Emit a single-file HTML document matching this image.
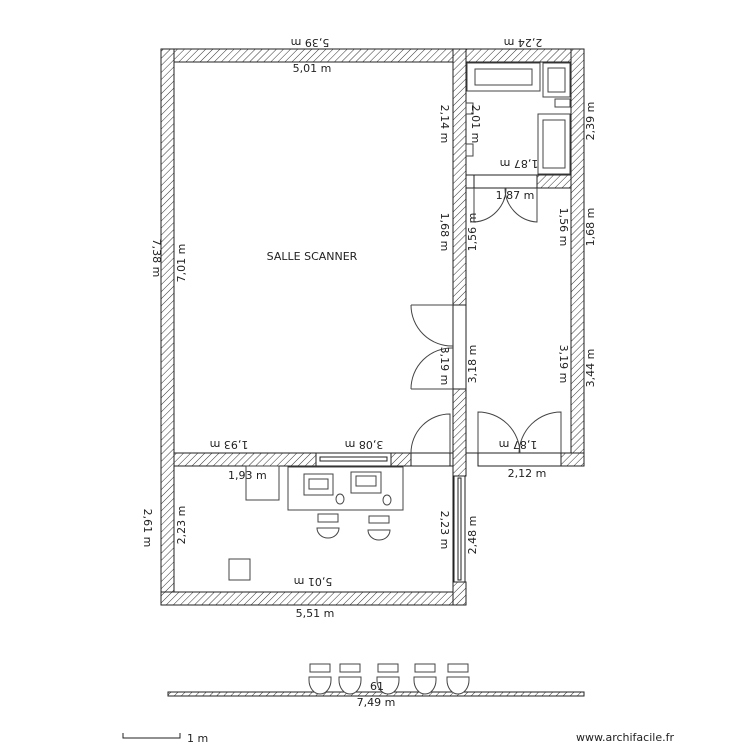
<!DOCTYPE html>
<html><head><meta charset="utf-8"><style>
html,body{margin:0;padding:0;background:#fff;}
svg{display:block;}
text{font-family:"DejaVu Sans","Liberation Sans",sans-serif;font-size:11px;fill:#222;}
</style></head><body>
<svg width="750" height="750" viewBox="0 0 750 750" xmlns="http://www.w3.org/2000/svg">
<defs>
<pattern id="h" patternUnits="userSpaceOnUse" width="5" height="5" patternTransform="rotate(45)">
<rect width="5" height="5" fill="#fff"/><line x1="0" y1="0" x2="0" y2="5" stroke="#333" stroke-width="1"/>
</pattern>
</defs>
<g stroke="#222" stroke-width="1" fill="url(#h)">
<!-- top wall -->
<rect x="161" y="49" width="423" height="13"/>
<!-- left wall -->
<rect x="161" y="49" width="13" height="556"/>
<!-- bottom wall lower room -->
<rect x="161" y="592" width="305" height="13"/>
<!-- right outer wall -->
<rect x="571" y="49" width="13" height="417"/>
<!-- middle wall segments -->
<rect x="453" y="49" width="13" height="256"/>
<rect x="453" y="389" width="13" height="87"/>
<rect x="453" y="582" width="13" height="23"/>
<!-- bathroom/corridor partition -->
<rect x="537" y="175" width="34" height="13"/>
<!-- bottom wall main room -->
<rect x="174" y="453" width="142" height="13"/>
<rect x="391" y="453" width="20" height="13"/>
<!-- bottom right wall -->
<rect x="561" y="453" width="23" height="13"/>
<!-- bottom lone wall -->
<rect x="168" y="692" width="416" height="4"/>
</g>
<g stroke="#222" stroke-width="1" fill="#fff">
<!-- interiors -->
<rect x="174" y="62" width="279" height="391" fill="none"/>
<rect x="174" y="466" width="279" height="126" fill="none"/>
<rect x="466" y="62" width="105" height="113" fill="none"/>
<rect x="466" y="188" width="105" height="265" fill="none"/>
<!-- window main bottom -->
<rect x="316" y="453" width="75" height="13"/>
<rect x="320" y="457" width="67" height="4"/>
<!-- openings -->
<rect x="411" y="453" width="39" height="13"/>
<rect x="453" y="305" width="13" height="84"/>
<rect x="478" y="453" width="83" height="13"/>
<rect x="474" y="175" width="63" height="13"/>
<!-- side window -->
<rect x="454" y="476" width="11" height="106"/>
<rect x="458" y="478" width="3" height="102"/>
</g>
<!-- doors -->
<g stroke="#444" stroke-width="1" fill="none">
<path d="M411 453 A39 39 0 0 1 450 414 L450 453"/>
<path d="M411 305 L453 305 M453 346 A41 41 0 0 1 411 305"/>
<path d="M411 389 L453 389 M453 348 A41 41 0 0 0 411 389"/>
<path d="M478 453 L478 412 A42 42 0 0 1 520 453"/>
<path d="M561 453 L561 412 A42 42 0 0 0 519 453"/>
<path d="M474 188 L474 222 A34 34 0 0 0 506 188"/>
<path d="M537 188 L537 222 A34 34 0 0 1 505 188"/>
</g>
<!-- bathroom fixtures -->
<g stroke="#444" stroke-width="1" fill="#fff">
<rect x="467" y="63" width="73" height="28"/>
<rect x="475" y="69" width="57" height="16"/>
<rect x="543" y="63" width="27" height="34"/>
<rect x="548" y="68" width="17" height="24"/>
<rect x="555" y="99" width="15" height="8"/>
<rect x="538" y="114" width="32" height="60"/>
<rect x="543" y="120" width="22" height="48"/>
<rect x="466" y="103" width="7" height="11"/>
<rect x="466" y="144" width="7" height="12"/>
<!-- lower room fixtures -->
<rect x="246" y="466" width="33" height="34"/>
<rect x="288" y="467" width="115" height="43"/>
<rect x="304" y="474" width="29" height="21"/>
<rect x="309" y="479" width="19" height="10"/>
<rect x="351" y="472" width="30" height="21"/>
<rect x="356" y="476" width="20" height="10"/>
<ellipse cx="340" cy="499" rx="4" ry="5"/>
<ellipse cx="387" cy="500" rx="4" ry="5"/>
<rect x="318" y="514" width="20" height="8"/>
<path d="M317 528 L339 528 A11 10 0 0 1 317 528 Z"/>
<rect x="369" y="516" width="20" height="7"/>
<path d="M368 530 L390 530 A11 10 0 0 1 368 530 Z"/>
<rect x="229" y="559" width="21" height="21"/>
<!-- bottom toilets -->
<rect x="310" y="664" width="20" height="8"/><path d="M309 677 L331 677 L331 680 A11 14 0 0 1 309 680 Z"/>
<rect x="340" y="664" width="20" height="8"/><path d="M339 677 L361 677 L361 680 A11 14 0 0 1 339 680 Z"/>
<rect x="378" y="664" width="20" height="8"/><path d="M377 677 L399 677 L399 680 A11 14 0 0 1 377 680 Z"/>
<rect x="415" y="664" width="20" height="8"/><path d="M414 677 L436 677 L436 680 A11 14 0 0 1 414 680 Z"/>
<rect x="448" y="664" width="20" height="8"/><path d="M447 677 L469 677 L469 680 A11 14 0 0 1 447 680 Z"/>
</g>
<!-- labels -->
<text x="310" y="47" text-anchor="middle" transform="rotate(180 310 43)">5,39 m</text>
<text x="523" y="47" text-anchor="middle" transform="rotate(180 523 43)">2,24 m</text>
<text x="312" y="72" text-anchor="middle">5,01 m</text>
<text x="312" y="260" text-anchor="middle" font-size="12">SALLE SCANNER</text>
<text x="515" y="199" text-anchor="middle">1,87 m</text>
<text x="519" y="168" text-anchor="middle" transform="rotate(180 519 164)">1,87 m</text>
<text x="229" y="449" text-anchor="middle" transform="rotate(180 229 445)">1,93 m</text>
<text x="364" y="449" text-anchor="middle" transform="rotate(180 364 445)">3,08 m</text>
<text x="518" y="449" text-anchor="middle" transform="rotate(180 518 445)">1,87 m</text>
<text x="228" y="479">1,93 m</text>
<text x="527" y="477" text-anchor="middle">2,12 m</text>
<text x="313" y="586" text-anchor="middle" transform="rotate(180 313 582)">5,01 m</text>
<text x="315" y="617" text-anchor="middle">5,51 m</text>
<text x="376" y="706" text-anchor="middle">7,49 m</text>
<text x="370" y="690">61</text>
<text x="153" y="258" text-anchor="middle" transform="rotate(90 153 258)">7,38 m</text>
<text x="185" y="263" text-anchor="middle" transform="rotate(-90 185 263)">7,01 m</text>
<text x="144" y="528" text-anchor="middle" transform="rotate(90 144 528)">2,61 m</text>
<text x="185" y="525" text-anchor="middle" transform="rotate(-90 185 525)">2,23 m</text>
<text x="441" y="124" text-anchor="middle" transform="rotate(90 441 124)">2,14 m</text>
<text x="472" y="124" text-anchor="middle" transform="rotate(90 472 124)">2,01 m</text>
<text x="590" y="117" text-anchor="middle" transform="rotate(-90 594 117)">2,39 m</text>
<text x="441" y="232" text-anchor="middle" transform="rotate(90 441 232)">1,68 m</text>
<text x="476" y="232" text-anchor="middle" transform="rotate(-90 476 232)">1,56 m</text>
<text x="560" y="227" text-anchor="middle" transform="rotate(90 560 227)">1,56 m</text>
<text x="594" y="227" text-anchor="middle" transform="rotate(-90 594 227)">1,68 m</text>
<text x="441" y="366" text-anchor="middle" transform="rotate(90 441 366)">3,19 m</text>
<text x="476" y="364" text-anchor="middle" transform="rotate(-90 476 364)">3,18 m</text>
<text x="560" y="364" text-anchor="middle" transform="rotate(90 560 364)">3,19 m</text>
<text x="594" y="368" text-anchor="middle" transform="rotate(-90 594 368)">3,44 m</text>
<text x="441" y="530" text-anchor="middle" transform="rotate(90 441 530)">2,23 m</text>
<text x="476" y="535" text-anchor="middle" transform="rotate(-90 476 535)">2,48 m</text>
<!-- scale -->
<path d="M123 733 L123 738 L180 738 L180 733" stroke="#222" fill="none"/>
<text x="187" y="742" font-size="12">1 m</text>
<text x="625" y="741" text-anchor="middle" font-family="Liberation Sans" font-size="12">www.archifacile.fr</text>
</svg>
</body></html>
